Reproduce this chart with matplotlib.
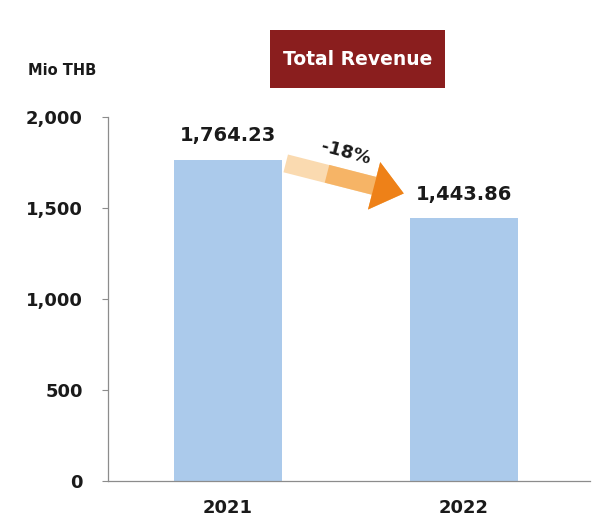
import matplotlib
matplotlib.use('Agg')
import matplotlib.pyplot as plt
from matplotlib.patches import Rectangle
from matplotlib.ticker import FuncFormatter

# Data
years = ['2021', '2022']
revenue = [1764.23, 1443.86]
change_label = '-18%'
yticks = [0, 500, 1000, 1500, 2000]

bar_color = '#ABCAEB'
axis_color = '#8C8C8C'

fig = plt.figure(figsize=(5.95, 5.19), dpi=100)
ax = fig.add_axes([0.1815, 0.0732, 0.81, 0.7014])

x = range(len(years))
ax.bar(x, revenue, width=0.46, color=bar_color, zorder=2)

ax.set_xlim(-0.508, 1.534)
ax.set_ylim(0, 2000)
ax.set_yticks(yticks)
ax.yaxis.set_major_formatter(FuncFormatter(lambda v, p: f'{int(v):,}'))
ax.set_xticks(list(x))
ax.set_xticklabels(years)

for s in ['top', 'right']:
    ax.spines[s].set_visible(False)
for s in ['left', 'bottom']:
    ax.spines[s].set_color(axis_color)
    ax.spines[s].set_linewidth(0.9)

ax.tick_params(axis='y', length=4, color=axis_color, pad=14, labelsize=13)
ax.tick_params(axis='x', length=0, pad=13, labelsize=13)
for lbl in ax.get_yticklabels() + ax.get_xticklabels():
    lbl.set_fontweight('bold')
    lbl.set_color('#1a1a1a')

# Value labels
for i, v in enumerate(revenue):
    ax.text(i, v + 80, f'{v:,.2f}', ha='center', va='bottom',
            fontsize=14, fontweight='bold', color='#1a1a1a')

# Arrow with fading shaft
style = 'simple,head_length=1.0,head_width=1.6,tail_width=0.6'
tip = (0.745, 1580)
for start, col in [((0.245, 1745), '#FADAB0'), ((0.42, 1688), '#F6B466'),
                   ((0.62, 1622), '#EE8118')]:
    ax.annotate('', xy=tip, xytext=start,
                arrowprops=dict(arrowstyle=style, mutation_scale=22, fc=col,
                                ec='none', shrinkA=0, shrinkB=0))
ax.text(0.5, 1805, change_label, rotation=-15, ha='center', va='center',
        fontsize=13, fontweight='bold', color='#1a1a1a')

# Unit label and title box
fig.text(0.047, 0.865, 'Mio THB', fontsize=10.5, fontweight='bold', color='#1a1a1a',
         va='center')
fig.patches.append(Rectangle((0.454, 0.830), 0.294, 0.112, transform=fig.transFigure,
                             fc='#8A1E1E', ec='none'))
fig.text(0.601, 0.886, 'Total Revenue', fontsize=13.5, fontweight='bold', color='white',
         ha='center', va='center')

plt.savefig('out.png', dpi=100)
